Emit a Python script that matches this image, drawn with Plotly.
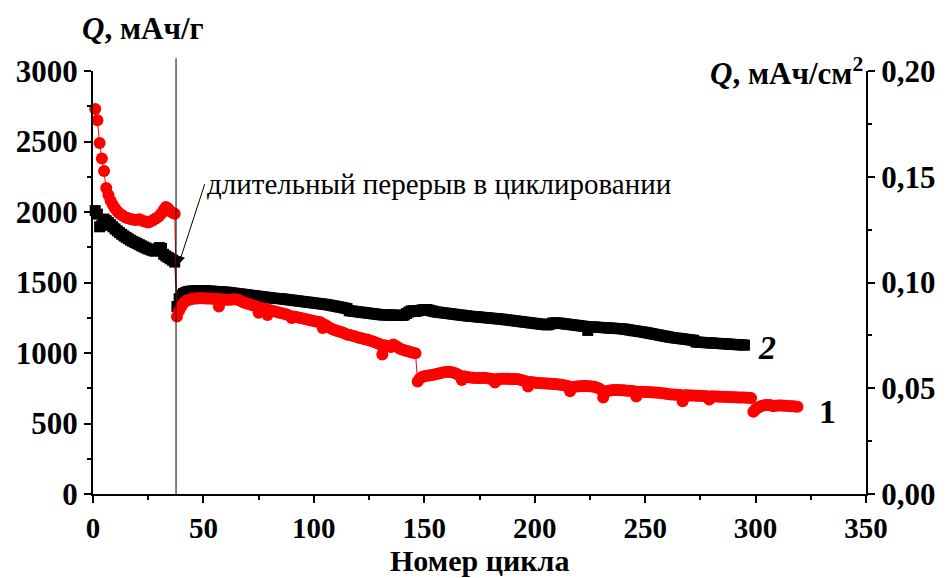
import plotly.graph_objects as go

# Specific capacity, mAh/g, one value per cycle
cycles_1 = list(range(1, 320))
capacity_1 = [
    2730, 2650, 2490, 2380, 2290, 2170, 2120, 2080, 2050, 2025,
    2005, 1990, 1978, 1968, 1960, 1955, 1950, 1946, 1943, 1945,
    1948, 1942, 1935, 1930, 1925, 1932, 1940, 1950, 1960, 1972,
    1990, 2015, 2035, 2025, 2005, 1995, 1988, 1258, 1300, 1330,
    1355, 1368, 1376, 1380, 1384, 1386, 1387, 1388, 1388, 1388,
    1387, 1386, 1386, 1385, 1385, 1384, 1330, 1382, 1380, 1378,
    1377, 1378, 1380, 1382, 1380, 1375, 1368, 1360, 1355, 1350,
    1345, 1340, 1335, 1330, 1285, 1320, 1315, 1310, 1270, 1305,
    1300, 1296, 1292, 1288, 1284, 1280, 1276, 1272, 1265, 1248,
    1258, 1255, 1252, 1248, 1245, 1242, 1238, 1234, 1230, 1226,
    1224, 1222, 1218, 1178, 1200, 1190, 1180, 1172, 1165, 1160,
    1155, 1150, 1145, 1138, 1132, 1128, 1125, 1120, 1115, 1110,
    1106, 1102, 1098, 1095, 1090, 1085, 1080, 1074, 1068, 1062,
    990, 1055, 1050, 1046, 1042, 1060, 1050, 1040, 1030, 1025,
    1020, 1015, 1010, 1005, 1002, 998, 798, 820, 830, 835,
    838, 840, 843, 846, 850, 853, 856, 860, 863, 866,
    867, 866, 862, 856, 850, 840, 808, 835, 830, 828,
    826, 824, 823, 822, 822, 823, 824, 822, 820, 818,
    815, 790, 815, 816, 817, 818, 818, 817, 816, 816,
    816, 815, 812, 808, 804, 800, 762, 795, 792, 790,
    788, 787, 786, 785, 784, 783, 782, 781, 780, 778,
    776, 774, 772, 770, 766, 728, 758, 760, 762, 764,
    765, 766, 766, 765, 764, 762, 760, 756, 750, 740,
    684, 724, 730, 734, 736, 738, 738, 737, 736, 735,
    734, 733, 732, 730, 728, 692, 726, 726, 725, 724,
    723, 722, 721, 720, 719, 718, 716, 714, 712, 710,
    708, 706, 705, 704, 703, 702, 658, 700, 700, 699,
    698, 698, 697, 696, 696, 695, 694, 694, 670, 693,
    692, 692, 691, 690, 690, 689, 688, 688, 687, 686,
    686, 685, 685, 684, 684, 683, 682, 680, 584, 600,
    612, 620, 626, 630, 632, 632, 630, 622, 626, 628,
    628, 627, 626, 625, 624, 623, 622, 620, 618,
]

cycles_2 = list(range(1, 296))
capacity_2 = [
    2010, 1985, 1895, 1905, 1950, 1938, 1925, 1910, 1895, 1880,
    1866, 1854, 1842, 1830, 1820, 1810, 1800, 1792, 1784, 1776,
    1768, 1760, 1752, 1745, 1738, 1732, 1726, 1722, 1735, 1748,
    1742, 1700, 1688, 1678, 1668, 1658, 1645, 1330, 1385, 1410,
    1422, 1430, 1435, 1438, 1440, 1441, 1442, 1442, 1442, 1441,
    1440, 1440, 1439, 1438, 1437, 1436, 1435, 1434, 1433, 1432,
    1430, 1428, 1426, 1424, 1422, 1420, 1418, 1416, 1414, 1412,
    1410, 1408, 1406, 1404, 1402, 1400, 1398, 1396, 1394, 1392,
    1390, 1388, 1387, 1386, 1385, 1383, 1381, 1379, 1377, 1375,
    1373, 1371, 1369, 1367, 1365, 1363, 1361, 1359, 1357, 1355,
    1353, 1351, 1349, 1347, 1345, 1343, 1340, 1337, 1334, 1331,
    1328, 1325, 1322, 1318, 1315, 1300, 1298, 1296, 1294, 1292,
    1290, 1288, 1286, 1284, 1282, 1280, 1278, 1276, 1274, 1272,
    1270, 1270, 1270, 1270, 1270, 1268, 1268, 1267, 1267, 1266,
    1270, 1280, 1290, 1298, 1300, 1295, 1298, 1302, 1306, 1308,
    1308, 1305, 1300, 1296, 1292, 1290, 1288, 1286, 1284, 1282,
    1280, 1278, 1276, 1274, 1272, 1270, 1268, 1266, 1264, 1262,
    1260, 1259, 1258, 1256, 1255, 1253, 1252, 1250, 1249, 1247,
    1246, 1244, 1243, 1241, 1240, 1238, 1236, 1234, 1232, 1230,
    1228, 1226, 1224, 1222, 1220, 1218, 1216, 1214, 1212, 1210,
    1208, 1206, 1204, 1202, 1200, 1200, 1205, 1212, 1214, 1214,
    1212, 1210, 1208, 1206, 1204, 1202, 1200, 1198, 1196, 1194,
    1192, 1190, 1188, 1160, 1186, 1185, 1184, 1183, 1182, 1181,
    1180, 1179, 1178, 1177, 1176, 1175, 1174, 1173, 1172, 1171,
    1168, 1166, 1163, 1160, 1158, 1156, 1153, 1151, 1149, 1146,
    1143, 1140, 1137, 1134, 1131, 1128, 1125, 1122, 1119, 1116,
    1113, 1110, 1108, 1106, 1104, 1102, 1100, 1098, 1096, 1094,
    1092, 1090, 1078, 1077, 1076, 1075, 1074, 1073, 1072, 1071,
    1070, 1069, 1068, 1067, 1066, 1065, 1064, 1063, 1062, 1061,
    1060, 1059, 1058, 1057, 1056,
]

# Cycle at which the long pause in cycling happened
pause_cycle = 37.6

x_ticks = [0, 50, 100, 150, 200, 250, 300, 350]
y_ticks = [0, 500, 1000, 1500, 2000, 2500, 3000]
y2_ticks = [0.0, 0.05, 0.10, 0.15, 0.20]
y2_labels = ["0,00", "0,05", "0,10", "0,15", "0,20"]

SERIF = "Liberation Serif, Times New Roman, serif"

fig = go.Figure()

fig.add_trace(go.Scatter(
    x=cycles_2, y=capacity_2, mode="lines+markers",
    line=dict(color="black", width=1),
    marker=dict(symbol="square", size=11, color="black"),
    cliponaxis=False, showlegend=False, hoverinfo="x+y",
))
fig.add_trace(go.Scatter(
    x=cycles_1, y=capacity_1, mode="lines+markers",
    line=dict(color="red", width=1),
    marker=dict(symbol="circle", size=12, color="red"),
    cliponaxis=False, showlegend=False, hoverinfo="x+y",
))
# Carrier for the secondary (areal capacity) axis
fig.add_trace(go.Scatter(x=[None], y=[None], yaxis="y2", showlegend=False,
                         hoverinfo="skip"))

axis_common = dict(
    showline=True, linecolor="black", linewidth=2,
    ticks="outside", tickcolor="black", tickwidth=2, ticklen=7,
    showgrid=False, zeroline=False,
    tickfont=dict(family=SERIF, size=31, color="black", weight="bold"),
)

fig.update_layout(
    width=947, height=578,
    margin=dict(l=93, r=72, t=71, b=84),
    paper_bgcolor="white", plot_bgcolor="white",
    xaxis=dict(
        range=[0, 350], tickvals=x_ticks,
        minor=dict(dtick=25, ticks="outside", ticklen=4, tickwidth=2, tickcolor="black"),
        **{**axis_common, "tickfont": dict(family=SERIF, size=29, color="black", weight="bold")},
    ),
    yaxis=dict(
        range=[0, 3000], tickvals=y_ticks,
        minor=dict(dtick=250, ticks="outside", ticklen=4, tickwidth=2, tickcolor="black"),
        **axis_common,
    ),
    yaxis2=dict(
        range=[0, 0.2], overlaying="y", side="right", anchor="x",
        tickvals=y2_ticks, ticktext=y2_labels,
        minor=dict(dtick=0.025, ticks="outside", ticklen=4, tickwidth=2, tickcolor="black"),
        **axis_common,
    ),
)

# Marker of the pause in cycling
fig.add_shape(type="line", xref="x", yref="paper",
              x0=pause_cycle, x1=pause_cycle, y0=0, y1=1.03,
              line=dict(color="black", width=1))

# Note with an arrow pointing at the pause
fig.add_annotation(
    xref="x", yref="y", x=pause_cycle + 1.2, y=1630,
    ax=26, ay=-80, xanchor="left", yanchor="middle",
    showarrow=True, arrowhead=2, arrowsize=1.6, arrowwidth=1, arrowcolor="black",
    text="длительный перерыв в циклировании",
    font=dict(family=SERIF, size=29, color="black"),
)

# Axis titles
fig.add_annotation(
    xref="paper", yref="paper", x=-0.017, y=1.1, xanchor="left", yanchor="middle",
    text="<i>Q</i>, мАч/г", showarrow=False,
    font=dict(family=SERIF, size=31, color="black", weight="bold"),
)
fig.add_annotation(
    xref="paper", yref="paper", x=0.999, y=1.0, xanchor="right", yanchor="middle",
    text="<i>Q</i>, мАч/см<sup>2</sup>", showarrow=False,
    font=dict(family=SERIF, size=31, color="black", weight="bold"),
)
fig.add_annotation(
    xref="paper", yref="paper", x=0.5, y=-0.157, xanchor="center", yanchor="middle",
    text="Номер цикла", showarrow=False,
    font=dict(family=SERIF, size=30, color="black", weight="bold"),
)

# Curve labels
fig.add_annotation(
    xref="x", yref="y", x=cycles_2[-1] + 5, y=capacity_2[-1] - 20,
    xanchor="left", yanchor="middle", text="<i>2</i>", showarrow=False,
    font=dict(family=SERIF, size=34, color="black", weight="bold"),
)
fig.add_annotation(
    xref="x", yref="y", x=cycles_1[-1] + 9, y=capacity_1[-1] - 30,
    xanchor="left", yanchor="middle", text="1", showarrow=False,
    font=dict(family=SERIF, size=34, color="black", weight="bold"),
)

fig.write_html("out.html")
